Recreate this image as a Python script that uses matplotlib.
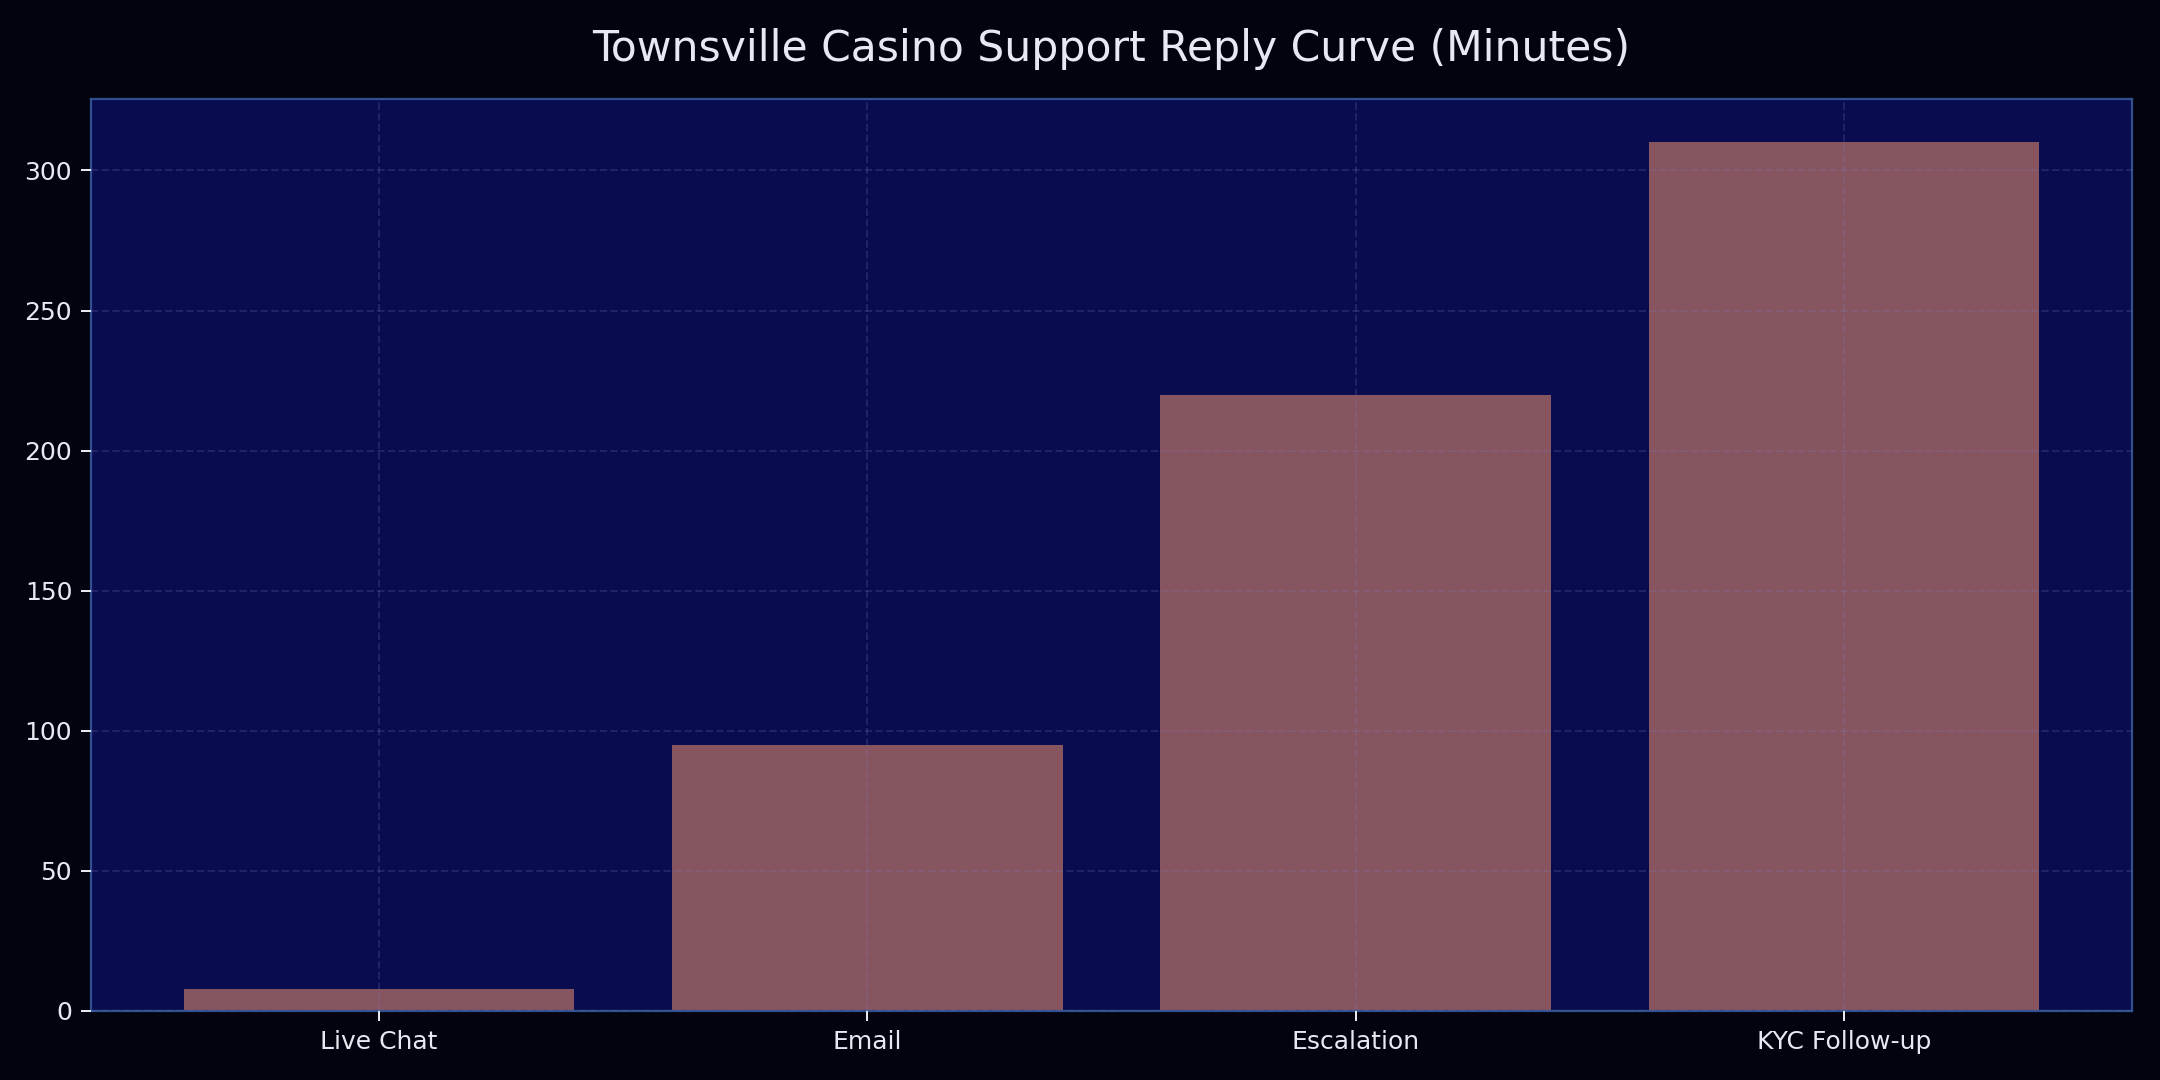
import matplotlib
matplotlib.use("Agg")
import matplotlib.pyplot as plt

categories = ["Live Chat", "Email", "Escalation", "KYC Follow-up"]
minutes = [8, 95, 220, 310]

fig = plt.figure(figsize=(12, 6), dpi=180, facecolor="#03030f")
ax = fig.add_axes([91/2160, 1 - 1011/1080, (2132-91)/2160, (1011-99)/1080])
ax.set_facecolor("#0a0c50")

ax.bar(categories, minutes, width=0.8, color="#875560", zorder=1)
ax.set_axisbelow(False)
ax.grid(True, linestyle="--", color="#8080c0", alpha=0.2, linewidth=0.8, zorder=2)

ax.set_yticks([0, 50, 100, 150, 200, 250, 300])
for s in ax.spines.values():
    s.set_color("#2f4f8f")
    s.set_linewidth(0.9)
ax.tick_params(colors="#e8e8f0", labelsize=10, length=4)
ax.set_title("Townsville Casino Support Reply Curve (Minutes)", color="#e8e8f5", fontsize=17, pad=15)

fig.savefig("out.png", dpi=180, facecolor=fig.get_facecolor())
